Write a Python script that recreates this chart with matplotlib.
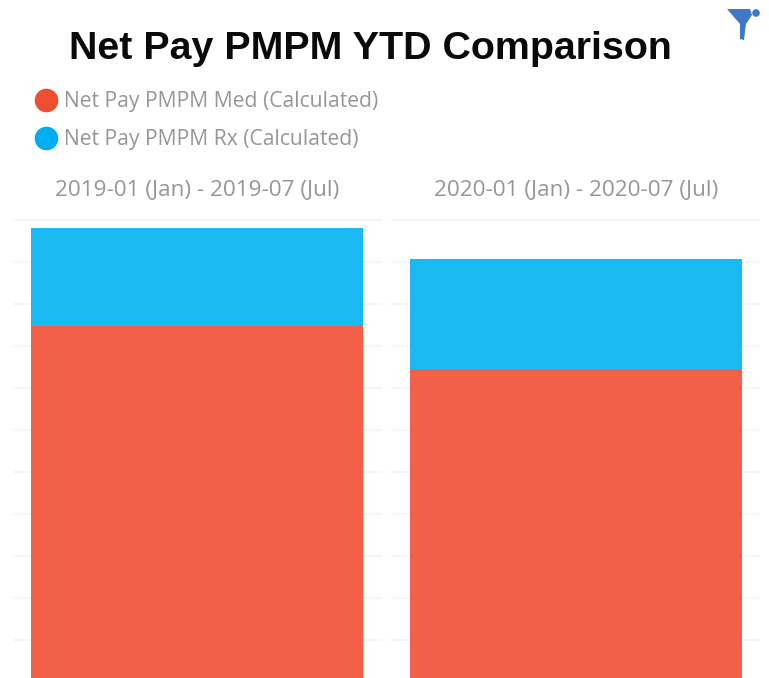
import numpy as np
import matplotlib
matplotlib.use("Agg")
import matplotlib.pyplot as plt
from matplotlib.lines import Line2D
from matplotlib.patches import Polygon, Circle

title = "Net Pay PMPM YTD Comparison"
periods = ["2019-01 (Jan) - 2019-07 (Jul)", "2020-01 (Jan) - 2020-07 (Jul)"]
med_label = "Net Pay PMPM Med (Calculated)"
rx_label = "Net Pay PMPM Rx (Calculated)"
med = [848, 745]
rx = [233, 262]
grid_vals = np.arange(100, 1200, 100)

W, H = 769, 678
red = "#F2604A"
blue = "#1AB9F3"
grey = "#969696"

fig = plt.figure(figsize=(W / 100, H / 100), dpi=100)

# pixel box -> figure fraction
def box(x0, y0, x1, y1):
    return [x0 / W, 1 - y1 / H, (x1 - x0) / W, (y1 - y0) / H]

# axis runs past the crop at the bottom, zero is just under the image
px_per_unit = 42 / 100
ymin = (682 - 678) / px_per_unit
ymax = (682 - 214) / px_per_unit

lefts = [12.5, 391.5]
for i, left in enumerate(lefts):
    ax = fig.add_axes(box(left, 214, left + 369, 678))
    ax.bar([0], [med[i]], width=0.9, color=red, zorder=3)
    ax.bar([0], [rx[i]], bottom=[med[i]], width=0.9, color=blue, zorder=3)
    ax.set_xlim(-0.5, 0.5)
    ax.set_ylim(ymin, ymax)
    ax.set_yticks(grid_vals)
    ax.set_xticks([])
    ax.tick_params(left=False, labelleft=False)
    ax.grid(axis="y", color="#F6F6F6", linewidth=1.6, zorder=0)
    for s in ax.spines.values():
        s.set_visible(False)
    ax.patch.set_alpha(0)
    fig.text((left + 184.5) / W, 1 - 190 / H, periods[i], ha="center", va="center",
             fontsize=16.2, color=grey, family="Open Sans")

fig.text(370.5 / W, 1 - 49 / H, title, ha="center", va="center", fontsize=28.4,
         fontweight="bold", color="#0A0A0A", family="Liberation Sans")

handles = [
    Line2D([], [], linestyle="none", marker="o", markersize=16, color="#F04E30", label=med_label),
    Line2D([], [], linestyle="none", marker="o", markersize=16, color="#00AEEF", label=rx_label),
]
fig.legend(handles=handles, loc="upper left", bbox_to_anchor=(33 / W, 1 - 91 / H),
           frameon=False, labelcolor=grey, borderpad=0, borderaxespad=0,
           handlelength=1.2, handletextpad=0.25, labelspacing=0.8,
           prop={"family": "Open Sans", "size": 15.2})

# filter icon, top right
overlay = fig.add_axes([0, 0, 1, 1])
overlay.set_xlim(0, W)
overlay.set_ylim(H, 0)
overlay.axis("off")
overlay.patch.set_alpha(0)
overlay.add_patch(Polygon([(727, 9), (750, 9), (752, 15), (746, 24), (744, 40),
                           (740, 39), (740, 24)], closed=True, color="#3F78C4", lw=0))
overlay.add_patch(Circle((756, 13), 3.8, color="#3F78C4", lw=0))

fig.savefig("out.png", dpi=100)
